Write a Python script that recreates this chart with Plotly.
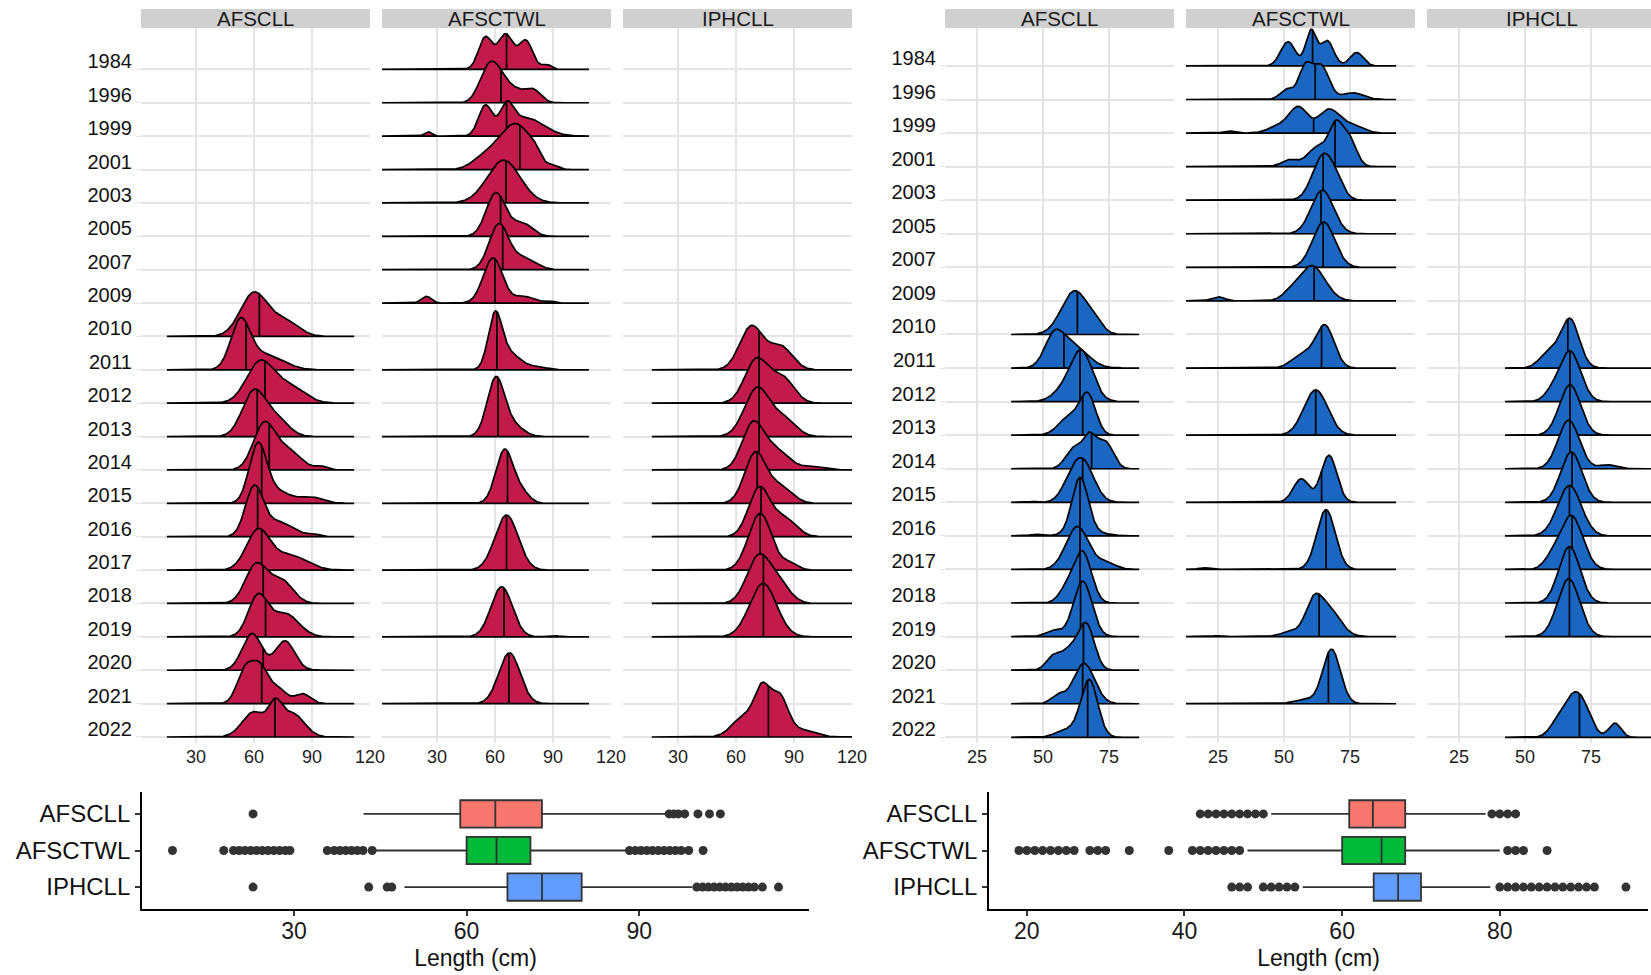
import numpy as np
import plotly.graph_objects as go

W, H = 1651, 975

YEARS = ["1984", "1996", "1999", "2001", "2003", "2005", "2007", "2009", "2010", "2011",
         "2012", "2013", "2014", "2015", "2016", "2017", "2018", "2019", "2020", "2021", "2022"]
GEARS = ["AFSCLL", "AFSCTWL", "IPHCLL"]

LL_YEARS = ["2010", "2011", "2012", "2013", "2014", "2015", "2016", "2017", "2018", "2019", "2020", "2021", "2022"]
TWL_YEARS = ["1984", "1996", "1999", "2001", "2003", "2005", "2007", "2009", "2011", "2013", "2015", "2017", "2019", "2021"]
IPH_YEARS = ["2011", "2012", "2013", "2014", "2015", "2016", "2017", "2018", "2019", "2022"]

# ridge shapes: (mode cm, spread cm, height in rows)
L_AFSCLL_MEDIANS = [62.8, 55.9, 65.7, 61.7, 67.9, 64.0, 61.9, 64.0, 64.8, 66.0, 64.8, 64.0, 70.9]
L_AFSCLL_MODES = [
    [(60, 7, 1.3), (76, 7, 0.46)],
    [(53, 5, 1.4), (66, 9, 0.45)],
    [(63, 7, 1.2), (78, 8, 0.5)],
    [(60, 6, 1.35), (72, 6, 0.5)],
    [(65, 5.5, 1.3), (77, 7, 0.6), (95, 3, 0.1)],
    [(62, 4.5, 1.7), (72, 7, 0.35), (90, 6, 0.18)],
    [(60, 4.5, 1.4), (72, 8, 0.45), (91, 3, 0.06)],
    [(62, 6, 1.15), (78, 9, 0.45)],
    [(61, 5.5, 1.15), (74, 6, 0.7)],
    [(62, 5, 1.2), (76, 7, 0.7)],
    [(59, 5, 1.1), (76, 5, 0.88)],
    [(55, 4, 0.9), (63, 4.5, 1.1), (73, 4, 0.4), (85, 4, 0.3)],
    [(60, 6, 0.75), (71, 3.5, 0.8), (80, 6, 0.7)],
]
L_TWL_MEDIANS = [66.0, 63.1, 66.0, 72.9, 65.7, 62.9, 64.0, 60.0, 61.0, 61.6, 66.5, 66.0, 64.7, 67.2]
L_TWL_MODES = [
    [(55, 3.5, 0.95), (65.5, 4, 1.05), (76, 3.5, 0.85), (86.5, 2.5, 0.15)],
    [(56, 4.5, 0.9), (62.5, 4.5, 0.7), (71, 4, 0.3), (79.5, 4, 0.4)],
    [(25.5, 2, 0.13), (55, 3.5, 0.9), (66, 3.5, 0.75), (76, 9, 0.55)],
    [(74, 6, 1.0), (65, 6, 0.8), (54, 6, 0.35), (81, 3, 0.25), (90, 3, 0.12)],
    [(64.5, 8.5, 1.28)],
    [(60.5, 5, 1.3), (74, 5, 0.4)],
    [(62, 5, 1.35), (75, 6, 0.35)],
    [(24.5, 2.5, 0.2), (59, 5, 1.35), (75, 5, 0.2), (88, 2.5, 0.06)],
    [(60, 3.5, 1.5), (67, 6, 0.5), (82, 5, 0.08)],
    [(60.5, 4.5, 1.75), (70, 5, 0.3)],
    [(65, 4.5, 1.6), (74, 4, 0.3)],
    [(66, 6, 1.65)],
    [(63.5, 5.5, 1.5), (90, 3, 0.04)],
    [(67.5, 5.5, 1.52)],
]
L_IPH_MEDIANS = [72.0, 72.0, 72.0, 72.0, 71.0, 73.0, 72.5, 74.2, 74.2, 76.8]
L_IPH_MODES = [
    [(68, 6, 1.3), (83, 6, 0.7)],
    [(70.5, 6, 1.3), (84, 6, 0.75)],
    [(71, 6.5, 1.45), (85, 6, 0.5)],
    [(68.5, 5.5, 1.3), (80, 7, 0.6), (100, 6, 0.1)],
    [(70, 5.5, 1.5), (83, 6, 0.5)],
    [(72, 5.5, 1.45), (85, 6, 0.55)],
    [(72.5, 6, 1.7), (88, 4, 0.2)],
    [(71.5, 6, 1.35), (82, 6, 0.55)],
    [(74, 7, 1.6)],
    [(73.5, 4, 1.3), (82.5, 4.5, 1.2), (64, 6, 0.6), (95, 6, 0.2)],
]

R_AFSCLL_MEDIANS = [63.0, 57.9, 64.0, 65.0, 68.4, 65.0, 64.0, 64.0, 64.0, 64.2, 65.3, 65.0, 66.9]
R_AFSCLL_MODES = [
    [(62, 5, 1.3), (70, 3, 0.2)],
    [(54, 3.5, 0.8), (61, 5.5, 0.7)],
    [(64.5, 4.2, 1.5), (57, 4, 0.25)],
    [(67, 3, 1.15), (60, 4, 0.55)],
    [(61.5, 3, 0.6), (67.5, 2.5, 0.9), (73.5, 3, 0.8)],
    [(65.5, 4, 1.1), (60.5, 3.5, 0.5), (46.5, 1.5, 0.03)],
    [(64, 3, 1.6), (66, 6, 0.15), (47, 2, 0.05)],
    [(63, 4.3, 1.28), (74, 3.5, 0.2)],
    [(65, 3.3, 1.5), (59, 3, 0.4)],
    [(65, 3.5, 1.65), (54, 3, 0.18)],
    [(66.5, 3, 1.3), (60, 3.5, 0.6), (53.5, 2.5, 0.35)],
    [(65.5, 4, 1.2), (55.5, 2.5, 0.25)],
    [(67.5, 3.2, 1.7), (59, 4, 0.22)],
]
R_TWL_MEDIANS = [60.8, 61.8, 61.2, 69.3, 64.8, 64.0, 64.8, 61.4, 64.2, 62.0, 64.2, 65.9, 63.3, 66.8]
R_TWL_MODES = [
    [(51.5, 2.8, 0.72), (60.2, 2, 1.05), (66.3, 2.5, 0.75), (77.5, 2.5, 0.4)],
    [(58, 2.5, 0.95), (64, 3, 1.0), (51, 2.5, 0.3), (76, 4, 0.2)],
    [(29, 2, 0.06), (48, 4, 0.2), (55.5, 3.5, 0.75), (67, 4, 0.7), (76, 4, 0.22)],
    [(69.5, 2.5, 1.05), (74.5, 2.8, 0.85), (63, 4, 0.6), (52, 3, 0.2)],
    [(64.8, 4, 1.32), (70, 3, 0.3)],
    [(64.5, 4.2, 1.3)],
    [(65, 4.2, 1.35)],
    [(25, 2.5, 0.12), (52, 3, 0.15), (60.5, 5, 1.05)],
    [(65.5, 3.5, 1.25), (57, 4, 0.4)],
    [(62, 4.5, 1.35)],
    [(67, 3, 1.4), (56.5, 3, 0.7)],
    [(65.9, 3.5, 1.78), (19.5, 2, 0.05)],
    [(61, 3, 0.8), (66.5, 4.5, 0.85), (53, 4, 0.15), (24.6, 1.5, 0.03)],
    [(68, 3.3, 1.62), (58, 4, 0.12)],
]
R_IPH_MEDIANS = [66.2, 67.0, 67.0, 67.0, 67.8, 66.8, 67.8, 66.8, 66.8, 70.6]
R_IPH_MODES = [
    [(67, 3.5, 1.45), (59, 3.5, 0.45)],
    [(67, 4, 1.5), (60, 3, 0.2)],
    [(67, 4, 1.5)],
    [(66.5, 4, 1.45), (81, 3, 0.12)],
    [(67.5, 4, 1.5)],
    [(66.8, 4.5, 1.5)],
    [(67.5, 4.3, 1.6), (60, 3, 0.25)],
    [(66.8, 4, 1.68)],
    [(66.5, 4.2, 1.72)],
    [(68.5, 4, 1.2), (73, 3, 0.35), (84, 2.3, 0.42), (62, 3, 0.3)],
]

# density evaluation span (cm) per panel
L_SPANS = [(15.0, 111.8), (1.6, 108.6), (16.5, 125.0)]
R_SPANS = [(37.9, 86.4), (12.5, 92.4), (42.4, 110.0)]

# boxplot summaries (cm)
L_BOX_Q1 = [58.9, 60.0, 67.1]
L_BOX_MED = [65.0, 65.2, 73.1]
L_BOX_Q3 = [73.1, 71.1, 80.0]
L_BOX_LO = [42.1, 44.1, 49.2]
L_BOX_HI = [94.5, 87.9, 99.2]
L_OUTLIERS = [
    [22.9, 95.2, 96.0, 96.8, 97.9, 100.2, 102.2, 104.1],
    [8.9, 17.8, 19.5, 20.5, 21.5, 22.5, 23.5, 24.5, 25.5, 26.5, 27.5, 28.5, 29.3,
     35.8, 37.0, 38.0, 39.0, 40.0, 41.0, 42.0, 43.6,
     88.3, 89.3, 90.3, 91.3, 92.3, 93.3, 94.3, 95.3, 96.3, 97.3, 98.6, 101.1],
    [22.9, 43.0, 46.2, 47.0, 100.0, 101.0, 102.0, 103.0, 104.0, 105.0, 106.0, 107.0,
     108.0, 109.0, 110.0, 111.4, 114.2],
]
R_BOX_Q1 = [60.9, 60.0, 64.0]
R_BOX_MED = [63.9, 65.0, 67.1]
R_BOX_Q3 = [68.0, 68.0, 70.0]
R_BOX_LO = [51.0, 48.0, 55.0]
R_BOX_HI = [78.2, 80.0, 78.8]
R_OUTLIERS = [
    [42, 43, 44, 45, 46, 47, 48, 49, 50, 79, 80, 81, 82],
    [19, 20, 21, 22, 23, 24, 25, 26, 28, 29, 30, 33, 38, 41, 42, 43, 44, 45, 46, 47, 81, 82, 83, 86],
    [46, 47, 48, 50, 51, 52, 53, 54, 80, 81, 82, 83, 84, 85, 86, 87, 88, 89, 90, 91, 92, 96],
]

RED = "#C21A4B"
BLUE = "#1A66C1"
BOX_COLORS = ["#F8766D", "#00BA38", "#619CFF"]
GRID = "#E4E4E4"
FONT = "Liberation Sans, Arial, sans-serif"


def dens(x, comps):
    y = np.zeros_like(x)
    for c, s, h in comps:
        y = y + h * np.exp(-0.5 * ((x - c) / s) ** 2)
    return y


ypos = {yr: 20 - i for i, yr in enumerate(YEARS)}

fig = go.Figure()

halves = [
    ("L", RED, [(LL_YEARS, L_AFSCLL_MEDIANS, L_AFSCLL_MODES),
                (TWL_YEARS, L_TWL_MEDIANS, L_TWL_MODES),
                (IPH_YEARS, L_IPH_MEDIANS, L_IPH_MODES)], L_SPANS),
    ("R", BLUE, [(LL_YEARS, R_AFSCLL_MEDIANS, R_AFSCLL_MODES),
                 (TWL_YEARS, R_TWL_MEDIANS, R_TWL_MODES),
                 (IPH_YEARS, R_IPH_MEDIANS, R_IPH_MODES)], R_SPANS),
]

for h, (side, color, panels, spans) in enumerate(halves):
    for k, (yrs, meds, modes) in enumerate(panels):
        ax = h * 3 + k + 1
        xa = "x" if ax == 1 else f"x{ax}"
        ya = "y" if ax == 1 else f"y{ax}"
        x = np.linspace(spans[k][0], spans[k][1], 400)
        for yr, med, comps in zip(yrs, meds, modes):
            base = ypos[yr]
            d = dens(x, comps)
            xs = np.concatenate([x, x[::-1]])
            ys = np.concatenate([base + d, np.full_like(x, base)])
            fig.add_trace(go.Scatter(x=xs, y=ys, mode="lines", fill="toself",
                                     fillcolor=color, line=dict(color="black", width=1.7),
                                     hoverinfo="skip", showlegend=False, xaxis=xa, yaxis=ya))
            dm = float(dens(np.array([med]), comps)[0])
            fig.add_trace(go.Scatter(x=[med, med], y=[base, base + dm], mode="lines",
                                     line=dict(color="black", width=1.7),
                                     hoverinfo="skip", showlegend=False, xaxis=xa, yaxis=ya))

# boxplots
for side_i, (q1s, meds, q3s, los, his, outs) in enumerate([
        (L_BOX_Q1, L_BOX_MED, L_BOX_Q3, L_BOX_LO, L_BOX_HI, L_OUTLIERS),
        (R_BOX_Q1, R_BOX_MED, R_BOX_Q3, R_BOX_LO, R_BOX_HI, R_OUTLIERS)]):
    ax = 7 + side_i
    for i in range(3):
        fig.add_trace(go.Box(y=[i + 1], q1=[q1s[i]], median=[meds[i]], q3=[q3s[i]],
                             lowerfence=[los[i]], upperfence=[his[i]], orientation="h",
                             width=0.75, whiskerwidth=0, boxpoints=False,
                             fillcolor=BOX_COLORS[i], line=dict(color="#333333", width=1.8),
                             showlegend=False, hoverinfo="skip",
                             xaxis=f"x{ax}", yaxis=f"y{ax}"))
        fig.add_trace(go.Scatter(x=outs[i], y=[i + 1] * len(outs[i]), mode="markers",
                                 marker=dict(color="#333333", size=9),
                                 showlegend=False, hoverinfo="skip",
                                 xaxis=f"x{ax}", yaxis=f"y{ax}"))

layout = dict(width=W, height=H, margin=dict(l=0, r=0, t=0, b=0, autoexpand=False),
              paper_bgcolor="white", plot_bgcolor="white",
              font=dict(family=FONT, color="black"))

ridge_px = [(141, 370), (382, 611), (623, 852), (945, 1174), (1186, 1415), (1427, 1651)]
ridge_ranges = [(1.6, 120), (1.6, 120), (1.6, 120), (12.85, 99.6), (12.85, 99.6), (12.85, 97.7)]
ridge_ticks = [[30, 60, 90, 120]] * 3 + [[25, 50, 75]] * 3
ydom = [1 - 743 / H, 1 - 28 / H]
yranges = [(-0.18, 21.24), (-0.17, 21.13)]

for ax in range(1, 7):
    xk = "xaxis" if ax == 1 else f"xaxis{ax}"
    yk = "yaxis" if ax == 1 else f"yaxis{ax}"
    x0, x1 = ridge_px[ax - 1]
    half = 0 if ax <= 3 else 1
    layout[xk] = dict(domain=[x0 / W, x1 / W], range=list(ridge_ranges[ax - 1]),
                      anchor="y" if ax == 1 else f"y{ax}",
                      tickvals=ridge_ticks[ax - 1], showgrid=True, gridcolor=GRID, gridwidth=1.6,
                      zeroline=False, showline=False, ticks="", ticklabelstandoff=1,
                      tickfont=dict(size=18, color="#222222"))
    first = ax in (1, 4)
    layout[yk] = dict(domain=ydom, range=list(yranges[half]),
                      anchor="x" if ax == 1 else f"x{ax}",
                      tickvals=[ypos[y] for y in YEARS], ticktext=YEARS,
                      showticklabels=first, showgrid=True, gridcolor=GRID, gridwidth=1.6,
                      zeroline=False, showline=False,
                      ticks="outside" if first else "", ticklen=4, tickcolor=GRID,
                      tickfont=dict(size=20, color="#111111"), ticklabelshift=-8)

box_px = [(142, 809), (989, 1648)]
box_ranges = [(3.6, 119.5), (15.2, 98.8)]
box_ticks = [[30, 60, 90], [20, 40, 60, 80]]
for j, ax in enumerate((7, 8)):
    x0, x1 = box_px[j]
    layout[f"xaxis{ax}"] = dict(domain=[x0 / W, x1 / W], range=list(box_ranges[j]), anchor=f"y{ax}",
                                tickvals=box_ticks[j], showgrid=False, zeroline=False,
                                showline=True, linecolor="black", linewidth=1.8,
                                ticks="outside", ticklen=5, tickcolor="#333333", tickwidth=1.5,
                                ticklabelstandoff=-5,
                                tickfont=dict(size=23, color="#1a1a1a"),
                                title=dict(text="Length (cm)", font=dict(size=23, color="#111111"), standoff=7))
    layout[f"yaxis{ax}"] = dict(domain=[1 - 909 / H, 1 - 792 / H], range=[3.6, 0.4], anchor=f"x{ax}",
                                tickvals=[1, 2, 3], ticktext=GEARS, showgrid=False, zeroline=False,
                                showline=True, linecolor="black", linewidth=1.8,
                                ticks="outside", ticklen=5, tickcolor="#333333", tickwidth=1.5,
                                tickfont=dict(size=24, color="#111111"))

shapes = []
annotations = []
strip_px = [(141, 370), (382, 611), (623, 852), (945, 1174), (1186, 1415), (1427, 1656)]
for i, (x0, x1) in enumerate(strip_px):
    shapes.append(dict(type="rect", xref="paper", yref="paper", x0=x0 / W, x1=min(x1, W) / W,
                       y0=1 - 28 / H, y1=1 - 9 / H, fillcolor="#D0D0D0", line=dict(width=0),
                       layer="below"))
    annotations.append(dict(xref="paper", yref="paper", x=(x0 + x1) / 2 / W, y=1 - 18.5 / H,
                            text=GEARS[i % 3], showarrow=False, xanchor="center", yanchor="middle",
                            font=dict(size=20.5, color="#1a1a1a")))
layout["shapes"] = shapes
layout["annotations"] = annotations

fig.update_layout(**layout)
fig.write_html("out.html", config={"displayModeBar": False},
               post_script="document.body.style.margin='0px';document.body.style.overflow='hidden';")
